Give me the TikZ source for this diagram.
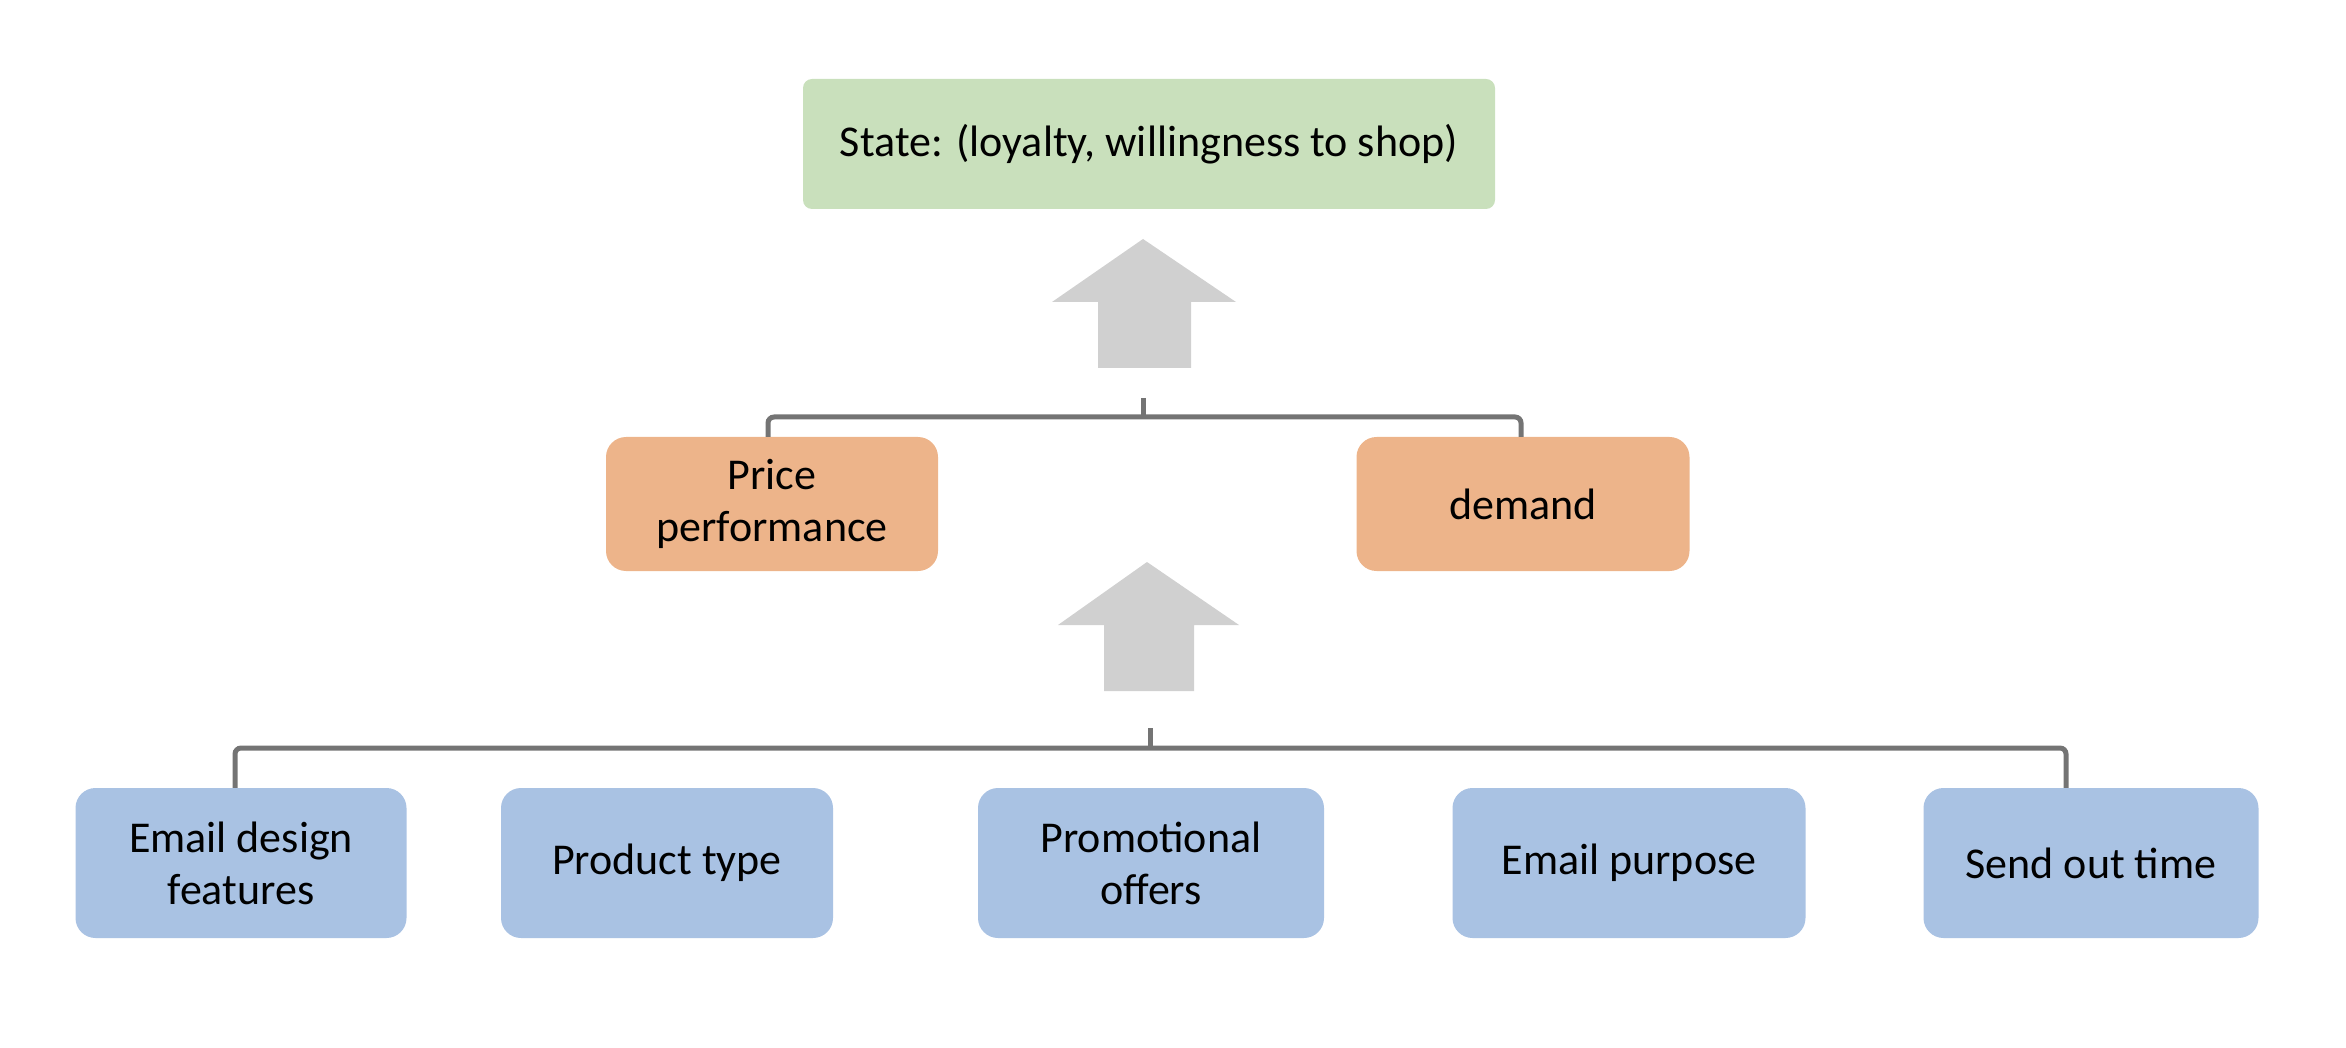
\documentclass[tikz,border=0pt]{standalone}
\usepackage{fontspec}
\setmainfont{Carlito}
\definecolor{gfill}{HTML}{C9E0BC}
\definecolor{ofill}{HTML}{EDB48A}
\definecolor{bfill}{HTML}{A9C2E3}
\definecolor{arr}{HTML}{D0D0D0}
\definecolor{brk}{HTML}{747474}
\tikzset{
  box/.style={rounded corners=20pt, inner sep=0pt, align=center, font=\fontsize{44}{52}\selectfont, text=black},
  gbox/.style={box, fill=gfill, rounded corners=9pt},
  obox/.style={box, fill=ofill},
  bbox/.style={box, fill=bfill},
  brace/.style={draw=brk, line width=5pt, rounded corners=6pt},
  bigarrow/.style={fill=arr, draw=none}
}
\begin{document}
\begin{tikzpicture}[x=1pt,y=-1pt]
\useasboundingbox (0,0) rectangle (2346,1048);
% top
\node[gbox, minimum width=692pt, minimum height=130pt] (state) at (1149,144) {State: (loyalty, willingness to shop)};
% middle
\node[obox, minimum width=332pt, minimum height=134pt] (price) at (772,504) {Price\\performance};
\node[obox, minimum width=333pt, minimum height=134pt] (demand) at (1523,504) {demand};
% bottom
\node[bbox, minimum width=331pt, minimum height=150pt] (b1) at (241,863) {Email design\\features};
\node[bbox, minimum width=332pt, minimum height=150pt] (b2) at (667,863) {Product type};
\node[bbox, minimum width=346pt, minimum height=150pt] (b3) at (1151,863) {Promotional\\offers};
\node[bbox, minimum width=353pt, minimum height=150pt] (b4) at (1629,863) {Email purpose};
\node[bbox, minimum width=335pt, minimum height=150pt] (b5) at (2091,863) {Send out time};
% arrows
\coordinate (a1) at (1143,239);
\fill[bigarrow] (a1) -- (1236,302) -- (1191,302) -- (1191,368) -- (1098,368) -- (1098,302) -- (1052,302) -- cycle;
\coordinate (a2) at (1147,562);
\fill[bigarrow] (a2) -- (1239,625) -- (1194,625) -- (1194,691) -- (1104,691) -- (1104,625) -- (1058,625) -- cycle;
% brackets
\coordinate (s1) at (1143,398);
\coordinate (e1l) at (768,417);
\coordinate (e1r) at (1521,417);
\draw[brace] (price.north -| e1l) -- (e1l) -- (e1r) -- (demand.north -| e1r);
\draw[draw=brk, line width=5pt] (s1) -- (1143,417);
\coordinate (s2) at (1150,728);
\coordinate (e2l) at (235,748);
\coordinate (e2r) at (2066,748);
\draw[brace] (b1.north -| e2l) -- (e2l) -- (e2r) -- (b5.north -| e2r);
\draw[draw=brk, line width=5pt] (s2) -- (1150,748);
\end{tikzpicture}
\end{document}
